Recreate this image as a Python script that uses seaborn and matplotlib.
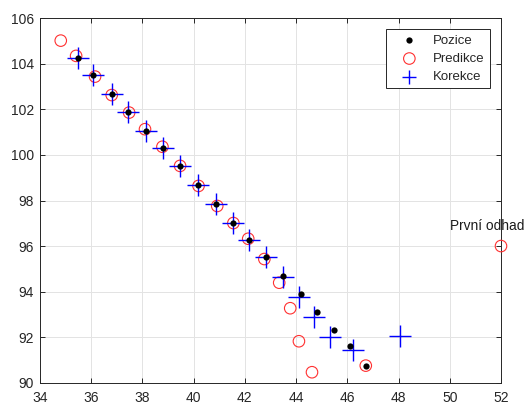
import matplotlib
matplotlib.use("Agg")
import matplotlib.pyplot as plt
import seaborn as sns
import pandas as pd

# Measured positions of the moving object
pozice_x = [35.47, 36.08, 36.80, 37.45, 38.14, 38.79, 39.47, 40.16, 40.86,
            41.55, 42.17, 42.81, 43.48, 44.19, 44.82, 45.49, 46.09, 46.72]
pozice_y = [104.24, 103.51, 102.66, 101.89, 101.07, 100.31, 99.52, 98.68, 97.83,
            97.01, 96.27, 95.51, 94.70, 93.88, 93.12, 92.33, 91.60, 90.75]

# Filter prediction step
predikce_x = [34.81, 35.41, 36.15, 36.80, 37.48, 38.10, 38.78, 39.47, 40.19, 40.92,
              41.55, 42.13, 42.76, 43.34, 43.77, 44.11, 44.62, 46.72, 52.00]
predikce_y = [105.02, 104.35, 103.44, 102.63, 101.86, 101.13, 100.36, 99.52, 98.64, 97.76,
              97.01, 96.32, 95.43, 94.39, 93.27, 91.82, 90.46, 90.75, 96.00]

# Filter correction step
korekce_x = [35.47, 36.08, 36.80, 37.45, 38.14, 38.79, 39.47, 40.16, 40.86,
             41.55, 42.17, 42.81, 43.48, 44.11, 44.70, 45.34, 46.22, 48.06]
korekce_y = [104.24, 103.51, 102.66, 101.89, 101.07, 100.31, 99.52, 98.68, 97.83,
             97.01, 96.27, 95.51, 94.65, 93.75, 92.89, 92.00, 91.43, 92.07]

x_ticks = list(range(34, 53, 2))
y_ticks = list(range(90, 107, 2))

first_label = "První odhad"
first_pos = (50.0, 96.88)

sns.set_theme(style="whitegrid")
plt.rcParams["font.family"] = ["Liberation Sans", "DejaVu Sans"]

df_poz = pd.DataFrame({"x": pozice_x, "y": pozice_y})
df_pred = pd.DataFrame({"x": predikce_x, "y": predikce_y})
df_kor = pd.DataFrame({"x": korekce_x, "y": korekce_y})

fig = plt.figure(figsize=(5.28, 4.08), dpi=100)
ax = fig.add_axes([40 / 528, 1 - 382.7 / 408, 461 / 528, 364.4 / 408])
ax.set_facecolor("white")

sns.scatterplot(data=df_pred, x="x", y="y", ax=ax, marker="o", s=8.3 ** 2,
                facecolor="none", edgecolor="#ff3030", linewidth=0.8,
                label="Predikce", zorder=3, clip_on=False)
sns.scatterplot(data=df_kor, x="x", y="y", ax=ax, marker="+", s=16 ** 2,
                color="#0000ff", linewidth=1.0, label="Korekce", zorder=4)
sns.scatterplot(data=df_poz, x="x", y="y", ax=ax, marker="o", s=4.5 ** 2,
                color="black", edgecolor="black", linewidth=0,
                label="Pozice", zorder=5)

ax.text(first_pos[0], first_pos[1], first_label, fontsize=9.9,
        color="#1a1a1a", ha="left", va="center")

ax.set_xlim(34, 52)
ax.set_ylim(90, 106)
ax.set_xticks(x_ticks)
ax.set_yticks(y_ticks)
ax.set_xlabel("")
ax.set_ylabel("")

ax.grid(True, color="#e3e3e3", linewidth=0.7)
for side in ["top", "right", "bottom", "left"]:
    ax.spines[side].set_visible(True)
    ax.spines[side].set_color("#262626")
    ax.spines[side].set_linewidth(0.7)
ax.tick_params(axis="both", which="both", direction="in", length=3.5, width=0.7,
               color="#262626", labelcolor="#262626", labelsize=10,
               top=True, right=True, bottom=True, left=True)
ax.tick_params(axis="x", pad=6)
ax.tick_params(axis="y", pad=4.5)

handles, labels = ax.get_legend_handles_labels()
order = [labels.index(n) for n in ["Pozice", "Predikce", "Korekce"]]
leg = ax.legend([handles[i] for i in order], [labels[i] for i in order],
                loc="upper right", bbox_to_anchor=(1 - 11 / 461, 1 - 11 / 364.4),
                borderaxespad=0, fontsize=9.5, frameon=True, fancybox=False,
                framealpha=1, edgecolor="#262626", handlelength=2.8,
                handletextpad=0.4, labelspacing=0.45, borderpad=0.4)
leg.get_frame().set_linewidth(0.7)
# smaller cross in the legend key
leg.legend_handles[2].set_sizes([9.5 ** 2])

fig.savefig("out.png", dpi=100)
